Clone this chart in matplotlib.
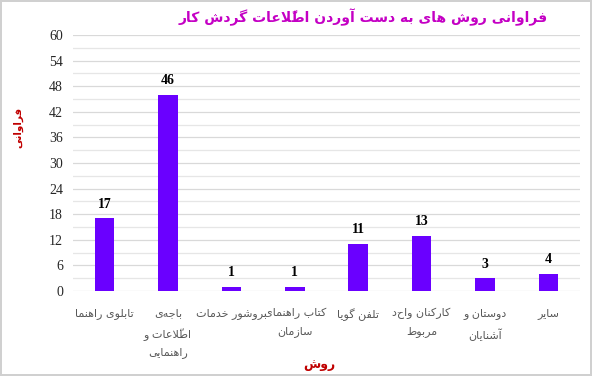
import matplotlib
matplotlib.use("Agg")
import matplotlib.pyplot as plt
import numpy as np

# ---- data ------------------------------------------------------------------
categories = [
    "تابلوی راهنما",
    "باجه‌ی\nاطّلاعات و\nراهنمایی",
    "بروشور خدمات",
    "کتاب راهنمای\nسازمان",
    "تلفن گویا",
    "کارکنان واحد\nمربوط",
    "دوستان و\nآشنایان",
    "سایر",
]
counts = [17, 46, 1, 1, 11, 13, 3, 4]
y_ticks = list(range(0, 61, 6))

TITLE = "فراوانی روش های به دست آوردن اطّلاعات گردش کار"
Y_LABEL = "فراوانی"
X_LABEL = "روش"

BAR_COLOR = "#6A00FF"
TITLE_COLOR = "#C400C4"
LABEL_COLOR = "#C00000"
GRID_COLOR = "#D9D9D9"

# ---- minimal Persian shaping (matplotlib has no bidi / joining) -----------
# letter: (isolated, final, initial, medial); right-joining letters have 2 forms
FORMS = {
    "ء": (0xFE80,),
    "آ": (0xFE81, 0xFE82),
    "ا": (0xFE8D, 0xFE8E),
    "ب": (0xFE8F, 0xFE90, 0xFE91, 0xFE92),
    "ت": (0xFE95, 0xFE96, 0xFE97, 0xFE98),
    "ج": (0xFE9D, 0xFE9E, 0xFE9F, 0xFEA0),
    "خ": (0xFEA5, 0xFEA6, 0xFEA7, 0xFEA8),
    "د": (0xFEA9, 0xFEAA),
    "ر": (0xFEAD, 0xFEAE),
    "ز": (0xFEAF, 0xFEB0),
    "س": (0xFEB1, 0xFEB2, 0xFEB3, 0xFEB4),
    "ش": (0xFEB5, 0xFEB6, 0xFEB7, 0xFEB8),
    "ط": (0xFEC1, 0xFEC2, 0xFEC3, 0xFEC4),
    "ع": (0xFEC9, 0xFECA, 0xFECB, 0xFECC),
    "ف": (0xFED1, 0xFED2, 0xFED3, 0xFED4),
    "ل": (0xFEDD, 0xFEDE, 0xFEDF, 0xFEE0),
    "م": (0xFEE1, 0xFEE2, 0xFEE3, 0xFEE4),
    "ن": (0xFEE5, 0xFEE6, 0xFEE7, 0xFEE8),
    "ه": (0xFEE9, 0xFEEA, 0xFEEB, 0xFEEC),
    "و": (0xFEED, 0xFEEE),
    "ک": (0xFB8E, 0xFB8F, 0xFB90, 0xFB91),
    "گ": (0xFB92, 0xFB93, 0xFB94, 0xFB95),
    "ی": (0xFBFC, 0xFBFD, 0xFBFE, 0xFBFF),
}
LAM_ALEF = {"ا": (0xFEFB, 0xFEFC), "آ": (0xFEF5, 0xFEF6)}
MARKS = "\u064B\u064C\u064D\u064E\u064F\u0650\u0651\u0652"


def _dual(c):
    return c in FORMS and len(FORMS[c]) == 4


def _joins(c):
    return c in FORMS and len(FORMS[c]) >= 2


def shape_line(text):
    # split into clusters: base letter + following marks
    clusters = []
    for ch in text:
        if ch in MARKS and clusters:
            clusters[-1][1] += ch
        else:
            clusters.append([ch, ""])
    out = []
    i = 0
    n = len(clusters)
    while i < n:
        c, marks = clusters[i]
        prev = clusters[i - 1][0] if i > 0 else ""
        conn_prev = _dual(prev) and _joins(c)
        if c == "ل" and i + 1 < n and clusters[i + 1][0] in LAM_ALEF:
            forms = LAM_ALEF[clusters[i + 1][0]]
            out.append(marks + clusters[i + 1][1] + chr(forms[1] if conn_prev else forms[0]))
            i += 2
            continue
        if c not in FORMS:
            if c != "\u200c":
                out.append(marks + c)
            i += 1
            continue
        nxt = clusters[i + 1][0] if i + 1 < n else ""
        conn_next = _dual(c) and _joins(nxt)
        f = FORMS[c]
        if conn_prev and conn_next:
            g = f[3]
        elif conn_prev:
            g = f[1]
        elif conn_next:
            g = f[2]
        else:
            g = f[0]
        # mark goes before its base in visual (left-to-right) order
        out.append(marks + chr(g))
        i += 1
    return "".join(reversed(out))


def fa(text):
    return "\n".join(shape_line(line) for line in text.split("\n"))


# ---- figure ----------------------------------------------------------------
fig = plt.figure(figsize=(5.92, 3.76), dpi=100)
fig.patch.set_edgecolor("#D0D0D0")
fig.patch.set_linewidth(1.5)
ax = fig.add_axes([0.123, 0.226, 0.857, 0.681])

x = np.arange(len(categories))
bars = ax.bar(x, counts, width=0.31, color=BAR_COLOR, zorder=3)

for b, v in zip(bars, counts):
    ax.text(b.get_x() + b.get_width() / 2, v + 1.8, str(v),
            ha="center", va="bottom", fontsize=10, fontweight="bold",
            family="Liberation Serif", zorder=4)

ax.set_xlim(-0.5, len(categories) - 0.5)
ax.set_ylim(0, 60)
ax.set_yticks(y_ticks)
ax.set_yticklabels([str(t) for t in y_ticks], family="Liberation Serif", fontsize=10)
ax.set_yticks(range(3, 60, 6), minor=True)
ax.tick_params(axis="y", which="major", length=0, pad=7, labelcolor="#262626")
ax.tick_params(axis="y", which="minor", length=0)
ax.grid(axis="y", which="major", color=GRID_COLOR, linewidth=0.9, zorder=0)
ax.grid(axis="y", which="minor", color="#E6E6E6", linewidth=0.9, zorder=0)

ax.set_xticks(x)
ax.set_xticklabels([fa(c) for c in categories], family="DejaVu Sans", fontsize=8,
                   color="#595959", linespacing=1.9, va="top")
ax.tick_params(axis="x", length=0, pad=12)

for s in ax.spines.values():
    s.set_visible(False)

fig.text(0.613, 0.955, fa(TITLE), ha="center", va="center", fontsize=10,
         fontweight="bold", color=TITLE_COLOR, family="DejaVu Sans")
fig.text(0.031, 0.66, fa(Y_LABEL), rotation=90, ha="center", va="center",
         fontsize=7.5, fontweight="bold", color=LABEL_COLOR, family="DejaVu Sans")
fig.text(0.54, 0.03, fa(X_LABEL), ha="center", va="center",
         fontsize=9, fontweight="bold", color=LABEL_COLOR, family="DejaVu Sans")

fig.savefig("out.png", dpi=100)
